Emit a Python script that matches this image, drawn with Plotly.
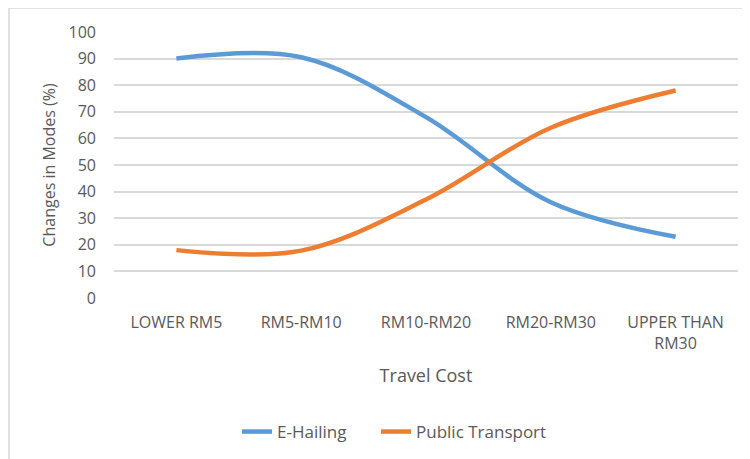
import plotly.graph_objects as go

categories = ["LOWER RM5", "RM5-RM10", "RM10-RM20", "RM20-RM30", "UPPER THAN<br>RM30"]
e_hailing = [90, 90.5, 68, 36, 23]
public_transport = [18, 17.8, 37, 64, 78]
y_ticks = list(range(0, 101, 10))

# page body has an 8px margin, so the figure is drawn 8px in from the window edge
OFF = 8
W, H = 750 - OFF, 459 - OFF
L, R, T, B = 114 - OFF, 12, 32 - OFF, 161
pw, ph = W - L - R, H - T - B

def px_x(x):
    return (x - OFF - L) / pw

def px_y(y):
    return (H - B - (y - OFF)) / ph

font_family = "Open Sans, Lato, sans-serif"
grey = "#595959"

fig = go.Figure()
fig.add_trace(go.Scatter(x=categories, y=e_hailing, name="E-Hailing", mode="lines",
                         legend="legend",
                         line=dict(color="#5B9BD5", width=4.5, shape="spline", smoothing=1)))
fig.add_trace(go.Scatter(x=categories, y=public_transport, name="Public Transport", mode="lines",
                         legend="legend2",
                         line=dict(color="#ED7D31", width=4.5, shape="spline", smoothing=1)))

leg_common = dict(orientation="h", xanchor="left", y=px_y(432), yanchor="middle",
                  font=dict(size=17, color=grey), bgcolor="rgba(0,0,0,0)")

fig.update_layout(
    width=W, height=H,
    margin=dict(l=L, r=R, t=T, b=B, autoexpand=False),
    paper_bgcolor="white", plot_bgcolor="white",
    font=dict(family=font_family, color=grey, size=16),
    showlegend=True,
    legend=dict(x=px_x(237), **leg_common),
    legend2=dict(x=px_x(376), **leg_common),
    xaxis=dict(
        type="category", range=[-0.5, 4.5], showgrid=False, zeroline=False, showline=False,
        ticks="", tickfont=dict(size=16, color=grey), ticklabelstandoff=13,
        title=dict(text="Travel Cost", font=dict(size=18, color=grey), standoff=16),
    ),
    yaxis=dict(
        range=[0, 100], tickvals=y_ticks, showgrid=True, gridcolor="#d9d9d9", gridwidth=1.5,
        zeroline=False, showline=False, ticks="", tickfont=dict(size=16, color=grey),
        ticklabelstandoff=17,
        title=dict(text="Changes in Modes (%)", font=dict(size=16, color=grey), standoff=8),
    ),
    shapes=[dict(type="rect", xref="paper", yref="paper",
                 x0=px_x(9), x1=px_x(780), y0=px_y(490), y1=px_y(8),
                 line=dict(color="#d9d9d9", width=1.5), fillcolor="rgba(0,0,0,0)", layer="below")],
)

fig.write_html("out.html")
